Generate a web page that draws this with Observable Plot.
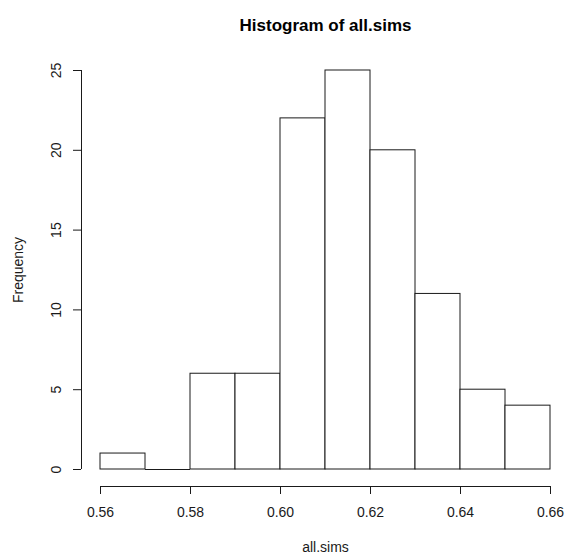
<!DOCTYPE html>
<html>
<head>
<meta charset="utf-8">
<script src="https://cdn.jsdelivr.net/npm/d3@7"></script>
<script src="https://cdn.jsdelivr.net/npm/@observablehq/plot@0.6"></script>
<style>
  html, body { margin: 0; padding: 0; background: #fff; }
</style>
</head>
<body>
<div id="chart"></div>
<script>
const binStart = [0.56, 0.57, 0.58, 0.59, 0.60, 0.61, 0.62, 0.63, 0.64, 0.65];
const binEnd   = [0.57, 0.58, 0.59, 0.60, 0.61, 0.62, 0.63, 0.64, 0.65, 0.66];
const counts   = [1, 0, 6, 6, 22, 25, 20, 11, 5, 4];
const xTicks = [0.56, 0.58, 0.60, 0.62, 0.64, 0.66];
const yTicks = [0, 5, 10, 15, 20, 25];
const titleText = "Histogram of all.sims";
const xLabel = "all.sims";
const yLabel = "Frequency";

const bins = binStart.map((s, i) => ({x1: s, x2: binEnd[i], count: counts[i]}));
const xMid = (xTicks[0] + xTicks[xTicks.length - 1]) / 2;
const yMid = (yTicks[0] + yTicks[yTicks.length - 1]) / 2;

const chart = Plot.plot({
  width: 566,
  height: 556,
  marginLeft: 81,
  marginRight: 16,
  marginTop: 54,
  marginBottom: 70,
  style: {fontFamily: "'Liberation Sans', Arial, Helvetica, sans-serif", fontSize: "14px", color: "#000", background: "#fff"},
  x: {domain: [xTicks[0], xTicks[xTicks.length - 1]], range: [100, 550], label: null},
  y: {domain: [yTicks[0], yTicks[yTicks.length - 1]], range: [469, 70], label: null},
  marks: [
    Plot.rectY(bins.filter(d => d.count > 0), {x1: "x1", x2: "x2", y1: 0, y2: "count", fill: "#fff", stroke: "#1a1a1a", strokeWidth: 1}),
    Plot.ruleY(bins.filter(d => d.count === 0), {y: 0, x1: "x1", x2: "x2", stroke: "#1a1a1a", strokeWidth: 1}),
    Plot.ruleY([0], {x1: xTicks[0], x2: xTicks[xTicks.length - 1], dy: 17, stroke: "#1a1a1a"}),
    Plot.ruleX([xTicks[0]], {y1: yTicks[0], y2: yTicks[yTicks.length - 1], dx: -19, stroke: "#1a1a1a"}),
    Plot.axisX({anchor: "bottom", ticks: xTicks, tickFormat: d3.format(".2f"), tickSize: 8, tickPadding: 13, fontSize: 14, label: null, stroke: "#1a1a1a", fill: "#1a1a1a"}),
    Plot.axisY({anchor: "left", ticks: yTicks, tickFormat: d => String(d), tickSize: 8, tickRotate: -90, tickPadding: 13, fontSize: 14, label: null, stroke: "#1a1a1a", fill: "#1a1a1a"}),
    Plot.text([titleText], {x: () => xMid, frameAnchor: "top", dy: -36, text: d => d, fontSize: 17, fontWeight: "bold", fill: "#000"}),
    Plot.text([xLabel], {x: () => xMid, y: () => 0, dy: 78, text: d => d, fontSize: 14, fill: "#1a1a1a"}),
    Plot.text([yLabel], {x: () => xTicks[0], y: () => yMid, dx: -82, rotate: -90, text: d => d, fontSize: 14, fill: "#1a1a1a"})
  ]
});
document.getElementById("chart").appendChild(chart);
</script>
</body>
</html>
